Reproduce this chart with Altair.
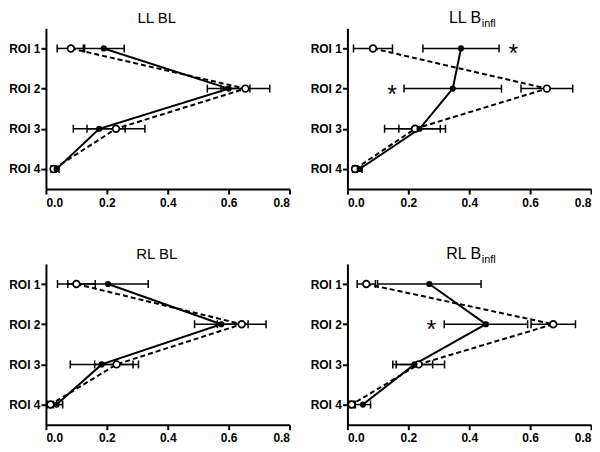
import altair as alt
import pandas as pd

ROI = [1, 2, 3, 4]
X_TICKS = [0.0, 0.2, 0.4, 0.6, 0.8]

# solid line + filled circles (mean, half error)
LL_BL_SOLID = [0.19, 0.60, 0.175, 0.035]
LL_BL_SOLID_ERR = [0.067, 0.07, 0.085, 0.008]
# dashed line + open circles
LL_BL_DASHED = [0.082, 0.655, 0.23, 0.025]
LL_BL_DASHED_ERR = [0.045, 0.08, 0.095, 0.008]

LL_BINFL_SOLID = [0.373, 0.346, 0.237, 0.04]
LL_BINFL_SOLID_ERR = [0.125, 0.16, 0.068, 0.008]
LL_BINFL_DASHED = [0.084, 0.655, 0.222, 0.025]
LL_BINFL_DASHED_ERR = [0.064, 0.085, 0.1, 0.008]

RL_BL_SOLID = [0.204, 0.576, 0.183, 0.035]
RL_BL_SOLID_ERR = [0.132, 0.088, 0.103, 0.02]
RL_BL_DASHED = [0.10, 0.643, 0.232, 0.015]
RL_BL_DASHED_ERR = [0.062, 0.08, 0.072, 0.01]

RL_BINFL_SOLID = [0.269, 0.455, 0.22, 0.051]
RL_BINFL_SOLID_ERR = [0.17, 0.137, 0.06, 0.025]
RL_BINFL_DASHED = [0.062, 0.676, 0.234, 0.014]
RL_BINFL_DASHED_ERR = [0.03, 0.073, 0.085, 0.008]

STAR_PANEL = ["LL Binfl", "LL Binfl", "RL Binfl"]
STAR_ROI = [1, 2, 2]
STAR_X = [0.545, 0.147, 0.276]

W, H = 244, 161
FONT = "Liberation Sans"


def panel(name, main, sub, solid, solid_err, dashed, dashed_err):
    rows = []
    for r, m, e in zip(ROI, solid, solid_err):
        rows.append(dict(roi=r, mean=m, lo=m - e, hi=m + e, series="solid"))
    for r, m, e in zip(ROI, dashed, dashed_err):
        rows.append(dict(roi=r, mean=m, lo=m - e, hi=m + e, series="dashed"))
    df = pd.DataFrame(rows)

    xs = alt.Scale(domain=[0, 0.8], nice=False, zero=False, padding=0)
    xa = alt.Axis(values=X_TICKS, format=".1f", title=None, labelPadding=3)
    y = alt.Y("roi:Q",
              scale=alt.Scale(domain=[0.5, 4.5], reverse=True, nice=False, zero=False,
                              padding=0),
              axis=alt.Axis(values=ROI, labelExpr="'ROI ' + datum.value", title=None,
                            labelPadding=1))
    base = alt.Chart(df)

    err = base.mark_rule(color="black", strokeWidth=1.5).encode(
        x=alt.X("lo:Q", scale=xs, axis=xa), x2="hi:Q", y=y)
    cap_lo = base.mark_tick(orient="vertical", size=8, thickness=1.5, color="black",
                            opacity=1).encode(x="lo:Q", y=y)
    cap_hi = base.mark_tick(orient="vertical", size=8, thickness=1.5, color="black",
                            opacity=1).encode(x="hi:Q", y=y)
    line_dashed = base.transform_filter("datum.series == 'dashed'").mark_line(
        color="black", strokeWidth=2, strokeDash=[5, 3]).encode(
        x="mean:Q", y=y, order="roi:Q")
    line_solid = base.transform_filter("datum.series == 'solid'").mark_line(
        color="black", strokeWidth=2).encode(x="mean:Q", y=y, order="roi:Q")
    pts_open = base.transform_filter("datum.series == 'dashed'").mark_point(
        shape="circle", filled=False, fill="white", fillOpacity=1, stroke="black",
        strokeWidth=1.7, size=45, opacity=1).encode(x="mean:Q", y=y)
    pts_fill = base.transform_filter("datum.series == 'solid'").mark_point(
        shape="circle", filled=True, color="black", size=38, opacity=1).encode(
        x="mean:Q", y=y)

    layers = [err, cap_lo, cap_hi, line_dashed, line_solid, pts_open, pts_fill]

    sdf = pd.DataFrame({"panel": STAR_PANEL, "roi": STAR_ROI, "x": STAR_X})
    sdf = sdf[sdf["panel"] == name]
    if len(sdf):
        layers.append(alt.Chart(sdf).mark_text(
            text="*", fontSize=25, font=FONT, color="black", baseline="alphabetic",
            dy=14).encode(x="x:Q", y=y))

    if sub is None:
        layers.append(alt.Chart(pd.DataFrame({"t": [main]})).mark_text(
            font=FONT, fontSize=15, color="black", fill="black", align="center",
            baseline="alphabetic").encode(text="t:N", x=alt.value(111), y=alt.value(-5)))
    else:
        layers.append(alt.Chart(pd.DataFrame({"t": [main]})).mark_text(
            font=FONT, fontSize=16, color="black", fill="black", align="right",
            baseline="alphabetic").encode(text="t:N", x=alt.value(134), y=alt.value(-5)))
        layers.append(alt.Chart(pd.DataFrame({"t": [sub]})).mark_text(
            font=FONT, fontSize=11, color="black", fill="black", align="left",
            baseline="alphabetic").encode(text="t:N", x=alt.value(134.5), y=alt.value(-1)))

    return alt.layer(*layers).properties(width=W, height=H)


p1 = panel("LL BL", "LL BL", None, LL_BL_SOLID, LL_BL_SOLID_ERR, LL_BL_DASHED, LL_BL_DASHED_ERR)
p2 = panel("LL Binfl", "LL B", "infl", LL_BINFL_SOLID, LL_BINFL_SOLID_ERR,
           LL_BINFL_DASHED, LL_BINFL_DASHED_ERR)
p3 = panel("RL BL", "RL BL", None, RL_BL_SOLID, RL_BL_SOLID_ERR, RL_BL_DASHED, RL_BL_DASHED_ERR)
p4 = panel("RL Binfl", "RL B", "infl", RL_BINFL_SOLID, RL_BINFL_SOLID_ERR,
           RL_BINFL_DASHED, RL_BINFL_DASHED_ERR)

chart = alt.concat(p1, p2, p3, p4, columns=2, spacing={"row": 75, "column": 58},
                   bounds="flush").properties(
    padding={"top": 2, "left": 0, "right": 0, "bottom": 0}).configure_view(
    stroke=None).configure_axis(
    labelFont=FONT, labelFontWeight="bold", labelFontSize=12, labelColor="black",
    domainColor="black", domainWidth=2, tickColor="black", tickWidth=2, tickSize=5,
    grid=False)

chart.save("out.html", embed_options={"renderer": "svg", "actions": False})
